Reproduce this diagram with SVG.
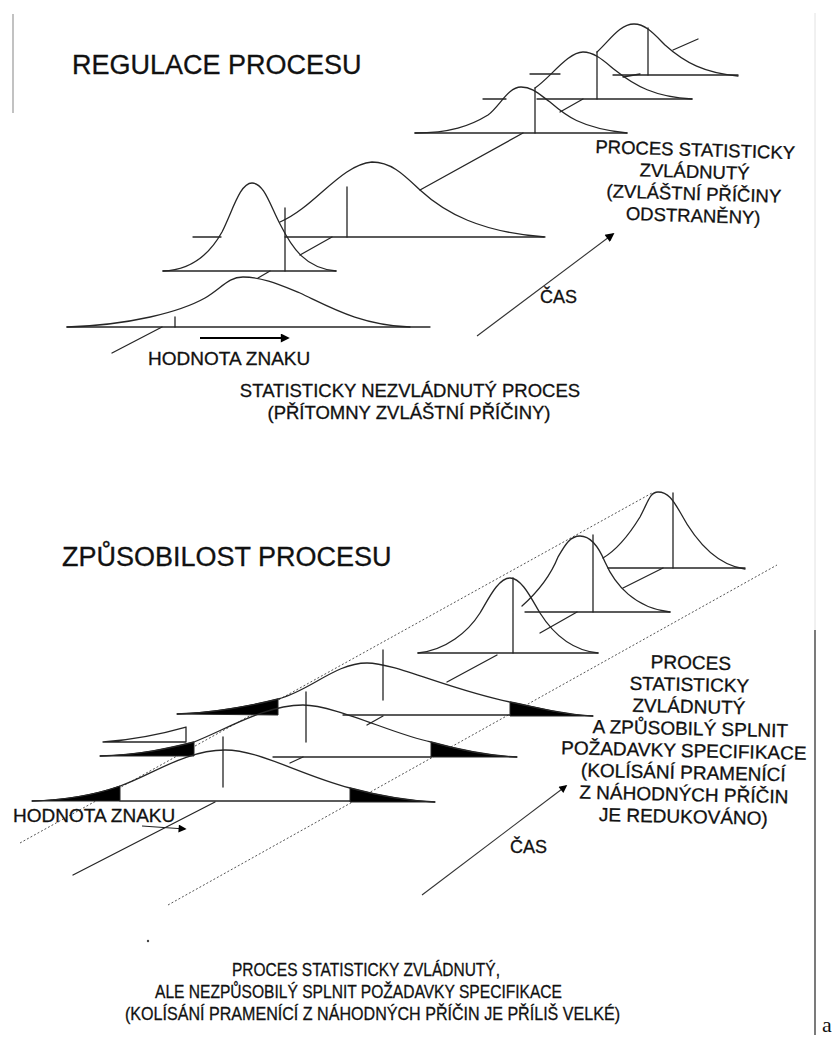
<svg xmlns="http://www.w3.org/2000/svg" width="834" height="1038" viewBox="0 0 834 1038">
<defs>
<style>
.c{fill:none;stroke:#262626;stroke-width:1.3;stroke-linejoin:round;stroke-linecap:round}
.blk{fill:#000;stroke:#262626;stroke-width:1}
.dot{fill:none;stroke:#555;stroke-width:1;stroke-dasharray:2 2}
.ax{fill:none;stroke:#333;stroke-width:1.1}
.t{font-family:"Liberation Sans",Arial,sans-serif;fill:#111;stroke:#111;stroke-width:0.3}
.tm{font-family:"Liberation Sans",Arial,sans-serif;fill:#111;stroke:#111;stroke-width:0.3;text-anchor:middle}
</style>
<marker id="ah" viewBox="0 0 10 10" refX="8" refY="5" markerWidth="11" markerHeight="9" markerUnits="userSpaceOnUse" orient="auto"><path d="M0,0 L10,5 L0,10 z" fill="#000"/></marker>
<marker id="ahs" viewBox="0 0 10 10" refX="8" refY="5" markerWidth="10" markerHeight="8" markerUnits="userSpaceOnUse" orient="auto"><path d="M0,0 L10,5 L0,10 z" fill="#000"/></marker>
</defs>
<rect width="834" height="1038" fill="#fff"/>

<g id="frame">
<line x1="13" y1="14" x2="13" y2="113" stroke="#999" stroke-width="1.2"/>
<line x1="815" y1="13" x2="815" y2="630" stroke="#e2e2e2" stroke-width="1"/>
<line x1="815" y1="630" x2="815" y2="1035" stroke="#333" stroke-width="1.3"/>
<circle cx="148" cy="941" r="1.2" fill="#444"/>
</g>

<g id="top-title"><text class="t" x="72" y="74" font-size="27">REGULACE PROCESU</text></g>

<g id="top-curves">
<path class="c" d="M67,327 C130,325 180,312 205,298 C222,288 228,277 243,277 C262,277 280,285 300,293 C330,307 360,325 410,327"/>
<path class="c" d="M163,271 C195,270 212,250 222,232 C233,210 240,183 252,183 C264,183 270,205 280,224 C292,248 305,268 336,271"/>
<path class="c" d="M280,222 C315,207 340,165 372,162 C392,162 405,176 420,190 C445,213 480,232 545,237"/>
<path class="c" d="M415,133 C450,133 470,126 488,115 C500,106 508,87 521,87 C533,87 540,95 550,102 C565,115 580,128 627,133"/>
<path class="c" d="M535,88 C550,78 568,52 583,52 C595,52 605,62 615,70 C635,86 655,97 692,99"/>
<path class="c" d="M597,52 C610,40 620,24 634,24 C646,24 655,35 665,45 C685,63 705,73 738,76"/>
<path class="c" d="M67,327 H430 M163,271 H336 M193,237 H221 M285,237 H544 M415,133 H627 M483,99 H506 M537,99 H692 M530,74 H560 M613,75 H738"/>
<path class="c" d="M175,317 V327 M285,208 V271 M347,187 V237 M535,88 V133 M597,52 V99 M648,28 V75"/>
</g>

<g id="top-connectors">
<path class="c" d="M112,353 L162,327 M258,278 L270,271 M300,255 L332,237 M420,190 L523,133 M560,112 L583,99 M623,77 L640,74 M673,50 L698,39"/>
<line x1="200" y1="338" x2="288" y2="338" stroke="#000" stroke-width="2" marker-end="url(#ah)"/>
<line class="ax" x1="477" y1="336" x2="613" y2="234" marker-end="url(#ah)"/>
</g>

<g id="top-labels">
<g transform="rotate(1.8 694 190)">
<text class="tm" x="694" y="156" font-size="18.5">PROCES STATISTICKY</text>
<text class="tm" x="694" y="178" font-size="18.5">ZVLÁDNUTÝ</text>
<text class="tm" x="694" y="200" font-size="18.5">(ZVLÁŠTNÍ PŘÍČINY</text>
<text class="tm" x="694" y="222" font-size="18.5">ODSTRANĚNY)</text>
</g>
<text class="t" x="540" y="303" font-size="18">ČAS</text>
<text class="t" x="148" y="365" font-size="19">HODNOTA ZNAKU</text>
<text class="tm" x="410" y="397" font-size="18.5">STATISTICKY NEZVLÁDNUTÝ PROCES</text>
<text class="tm" x="409" y="419" font-size="18.5">(PŘÍTOMNY ZVLÁŠTNÍ PŘÍČINY)</text>
</g>

<g id="bottom-title"><text class="t" x="62" y="566" font-size="27">ZPŮSOBILOST PROCESU</text></g>

<g id="bottom-dotted">
<line class="dot" x1="20" y1="843" x2="652" y2="493"/>
<line class="dot" x1="168" y1="905" x2="777" y2="565"/>
</g>

<g id="bottom-curves">
<path class="blk" d="M177,714 C210,713 250,706 278,699 L278,715 Z"/>
<path class="blk" d="M510,702 C540,708 565,715 593,716 L510,716 Z"/>
<path class="blk" d="M100,756 C140,755 170,748 194,742 L194,756 Z"/>
<path class="blk" d="M431,742 C460,750 490,756 517,757 L431,757 Z"/>
<path class="blk" d="M32,801 C70,800 100,793 120,786 L120,801 Z"/>
<path class="blk" d="M350,788 C380,796 410,801 435,802 L350,802 Z"/>
<path class="c" d="M103,742 C140,739 165,733 186,727 L186,742 Z"/>
<path class="c" d="M603,558 C620,548 632,530 640,517 C648,502 650,492 658,492 C668,492 673,500 680,512 C695,540 715,565 745,569"/>
<path class="c" d="M522,606 C540,590 552,572 558,557 C565,545 570,536 580,536 C592,536 600,550 605,562 C615,585 635,608 670,612"/>
<path class="c" d="M418,653 C446,650 468,632 480,613 C488,600 498,578 510,578 C522,578 532,600 540,613 C552,632 570,650 598,653"/>
<path class="c" d="M177,714 C210,713 250,706 278,699 C310,691 335,663 367,663 C395,663 450,690 510,702 C540,708 565,715 593,716"/>
<path class="c" d="M100,756 C140,755 170,748 194,742 C225,730 265,705 303,705 C335,705 395,735 431,742 C460,750 490,756 517,757"/>
<path class="c" d="M32,801 C70,800 100,793 120,786 C150,776 185,750 225,750 C260,750 300,775 350,788 C380,796 410,801 435,802"/>
<path class="c" d="M608,568 H745 M525,612 H670 M418,653 H598 M343,715 H510 M273,757 H431 M120,801 H350"/>
<path class="c" d="M673,493 V568 M593,535 V612 M513,578 V653 M383,650 V700 M306,692 V742 M223,737 V787"/>
</g>

<g id="bottom-connectors">
<path class="c" d="M73,875 L215,802 M290,763 L303,757 M367,725 L383,716 M447,682 L497,655 M540,633 L577,612 M623,588 L663,568"/>
<line x1="142" y1="826" x2="185" y2="829" stroke="#222" stroke-width="1.1" marker-end="url(#ahs)"/>
<line class="ax" x1="422" y1="895" x2="566" y2="786" marker-end="url(#ahs)"/>
</g>

<g id="bottom-labels">
<g transform="rotate(1.3 686 745)">
<text class="tm" x="689" y="669" font-size="19">PROCES</text>
<text class="tm" x="688" y="691" font-size="19">STATISTICKY</text>
<text class="tm" x="688" y="713" font-size="19">ZVLÁDNUTÝ</text>
<text class="tm" x="690" y="735" font-size="19">A ZPŮSOBILÝ SPLNIT</text>
<text class="tm" x="684" y="757" font-size="19">POŽADAVKY SPECIFIKACE</text>
<text class="tm" x="684" y="779" font-size="19">(KOLÍSÁNÍ PRAMENÍCÍ</text>
<text class="tm" x="685" y="801" font-size="19">Z NÁHODNÝCH PŘÍČIN</text>
<text class="tm" x="685" y="823" font-size="19">JE REDUKOVÁNO)</text>
</g>
<text class="t" x="510" y="853" font-size="18">ČAS</text>
<text class="t" x="13" y="822" font-size="19">HODNOTA ZNAKU</text>
<text class="t" x="232" y="976" font-size="19" textLength="268" lengthAdjust="spacingAndGlyphs">PROCES STATISTICKY ZVLÁDNUTÝ,</text>
<text class="t" x="155" y="998" font-size="19" textLength="407" lengthAdjust="spacingAndGlyphs">ALE NEZPŮSOBILÝ SPLNIT POŽADAVKY SPECIFIKACE</text>
<text class="t" x="125" y="1020" font-size="19" textLength="495" lengthAdjust="spacingAndGlyphs">(KOLÍSÁNÍ PRAMENÍCÍ Z NÁHODNÝCH PŘÍČIN JE PŘÍLIŠ VELKÉ)</text>
<text x="822" y="1032" font-family="'Liberation Serif',serif" font-size="22" fill="#111">a</text>
</g>
</svg>
